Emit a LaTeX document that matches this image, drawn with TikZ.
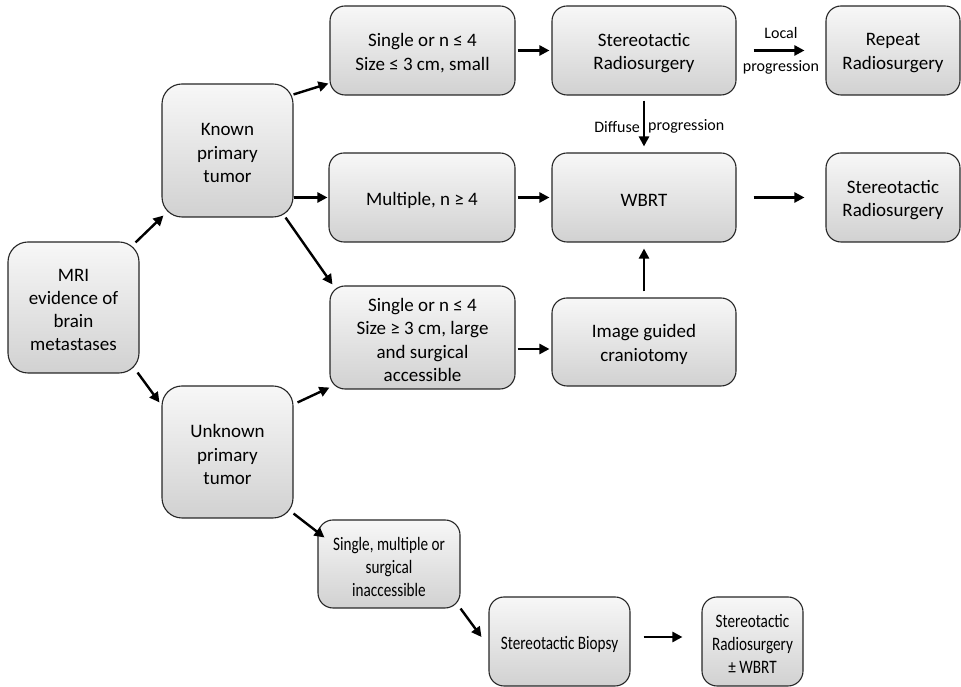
\documentclass[tikz,border=0pt]{standalone}
\usepackage{fontspec}
\setmainfont{Carlito}
\newfontfamily\narrowfont[FakeStretch=0.8]{Carlito}
\usetikzlibrary{arrows.meta,calc}
\begin{document}
\begin{tikzpicture}[x=1pt,y=1pt,
  box/.style={draw=black!85, line width=1.1pt, rounded corners=15pt,
    top color=white!97!black, bottom color=white!82!black, inner sep=0pt},
  bigbox/.style={box, rounded corners=20pt},
  txt/.style={align=center, inner sep=0pt, yshift=-2.5pt, font=\fontsize{19}{23.3}\selectfont},
  stxt/.style={txt, font=\narrowfont\fontsize{19}{23}\selectfont},
  arr/.style={line width=2.4pt, -{Triangle[length=10pt,width=10pt]}},
  lbl/.style={font=\fontsize{16}{19}\selectfont, inner sep=2pt}]
\useasboundingbox (0,0) rectangle (961,687);

\node[bigbox, minimum width=131, minimum height=131, label={[txt]center:{MRI\\evidence of\\brain\\metastases}}] (mri) at (73.5,379.5) {};
\node[bigbox, minimum width=131, minimum height=133, label={[txt]center:{Known\\primary\\tumor}}] (known) at (227.5,536.5) {};
\node[bigbox, minimum width=131, minimum height=132, label={[txt]center:{Unknown\\primary\\tumor}}] (unknown) at (227.5,235) {};

\node[box, minimum width=185, minimum height=89, label={[txt]center:{Single or n ≤ 4\\Size ≤ 3 cm, small}}] (small) at (422.5,636.5) {};
\node[box, minimum width=184, minimum height=89, label={[txt]center:{Stereotactic\\Radiosurgery}}] (srs1) at (644,636.5) {};
\node[box, minimum width=134, minimum height=89, label={[txt]center:{Repeat\\Radiosurgery}}] (repeat) at (893,636.5) {};

\node[box, minimum width=186, minimum height=89, label={[txt]center:{Multiple, n ≥ 4}}] (multiple) at (422,489.5) {};
\node[box, minimum width=184, minimum height=89, label={[txt]center:{WBRT}}] (wbrt) at (644,489.5) {};
\node[box, minimum width=134, minimum height=89, label={[txt]center:{Stereotactic\\Radiosurgery}}] (srs2) at (893,489.5) {};

\node[box, minimum width=185, minimum height=103, label={[txt]center:{Single or n ≤ 4\\Size ≥ 3 cm, large\\and surgical\\accessible}}] (large) at (422.5,349.5) {};
\node[box, minimum width=184, minimum height=88, label={[txt]center:{Image guided\\craniotomy}}] (crani) at (644,345) {};

\node[box, minimum width=142, minimum height=88, label={[stxt]center:{Single, multiple or\\surgical\\inaccessible}}] (inacc) at (389,123) {};
\node[box, minimum width=141, minimum height=89, label={[stxt]center:{Stereotactic Biopsy}}] (biopsy) at (559.5,45.5) {};
\node[box, minimum width=101, minimum height=89, label={[stxt]center:{Stereotactic\\Radiosurgery\\± WBRT}}] (srswbrt) at (752.5,45.5) {};

% connectors
\draw[arr] ([shift={(-4,-1)}]mri.north east) -- ([shift={(2,2)}]known.south west);
\draw[arr] ([shift={(-2,1)}]mri.south east) -- ([shift={(-2,-17)}]unknown.north west);

\draw[arr] ([shift={(0,-11)}]known.north east) -- ([shift={(-1,12)}]small.south west);
\draw[arr] (known.east |- multiple.west) -- ([xshift=-1]multiple.west);
\draw[arr] ([shift={(-8,0)}]known.south east) -- ([shift={(3,1)}]large.north west);

\draw[arr] ([shift={(4,-17)}]unknown.north east) -- ([shift={(0,2)}]large.south west);
\draw[arr] ([shift={(0,5)}]unknown.south east) -- ([shift={(7,-18)}]inacc.north west);

\draw[arr, shorten <=2pt, shorten >=2pt] (small.east) -- (srs1.west);
\draw[arr, shorten <=17pt, shorten >=21pt] (srs1.east) -- (repeat.west)
  node[lbl, midway, above=9pt] {Local}
  node[lbl, midway, below=7pt] {progression};
\draw[arr, shorten <=5pt, shorten >=6pt] (srs1.south) -- (wbrt.north)
  node[lbl, pos=0.55, left=1pt] {Diffuse}
  node[lbl, pos=0.55, right=1pt] {progression};

\draw[arr, shorten <=2pt, shorten >=2pt] (multiple.east) -- (wbrt.west);
\draw[arr, shorten <=17pt, shorten >=21pt] (wbrt.east) -- (srs2.west);

\draw[arr, shorten <=6pt, shorten >=6pt] (crani.north) -- (wbrt.south);
\draw[arr, shorten <=2pt, shorten >=2pt] ([yshift=-11.5]large.east) -- ([yshift=-11.5]large.east -| crani.west);

\draw[arr] (inacc.south east) -- ([shift={(-7,4.5)}]biopsy.west);
\draw[arr, shorten <=13pt, shorten >=19pt] ([yshift=4.5]biopsy.east) -- ([yshift=4.5]biopsy.east -| srswbrt.west);
\end{tikzpicture}
\end{document}
